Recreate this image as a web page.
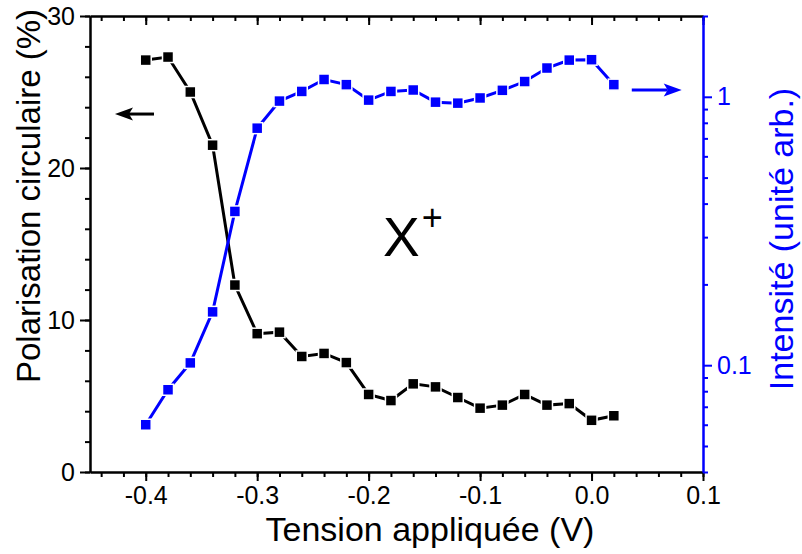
<!DOCTYPE html>
<html lang="fr">
  <head>
    <meta charset="UTF-8" />
    <script src="https://cdn.jsdelivr.net/npm/d3@7"></script>
    <style>
      * {
        margin: 0;
        padding: 0;
      }
      body {
        background: #fff;
      }
      svg {
        display: block;
        font-family: 'Liberation Sans', Arial, sans-serif;
      }
    </style>
    <title>Polarisation circulaire</title>
  </head>
  <body>
    <div id="container"></div>
  </body>
  <script>
    // tension appliquée (V)
    const tension = [
      -0.4, -0.38, -0.36, -0.34, -0.32, -0.3, -0.28, -0.26, -0.24, -0.22,
      -0.2, -0.18, -0.16, -0.14, -0.12, -0.1, -0.08, -0.06, -0.04, -0.02,
      0.0, 0.02,
    ];
    // polarisation circulaire (%)
    const polarisation = [
      27.1, 27.3, 25.0, 21.5, 12.3, 9.1, 9.2, 7.6, 7.8, 7.2, 5.1, 4.7, 5.8,
      5.6, 4.9, 4.2, 4.4, 5.1, 4.4, 4.5, 3.4, 3.7,
    ];
    // intensité (unité arb.)
    const intensite = [
      0.06, 0.081, 0.102, 0.158, 0.374, 0.764, 0.964, 1.047, 1.16, 1.11,
      0.972, 1.047, 1.06, 0.955, 0.947, 0.99, 1.057, 1.14, 1.28, 1.37, 1.375,
      1.11,
    ];

    const xTicks = [-0.4, -0.3, -0.2, -0.1, 0.0, 0.1];
    const yLeftTicks = [0, 10, 20, 30];
    const yRightTicks = [0.1, 1];
    const yRightMinor = [
      0.04, 0.05, 0.06, 0.07, 0.08, 0.09, 0.2, 0.3, 0.4, 0.5, 0.6, 0.7, 0.8,
      0.9, 2,
    ];

    const width = 802;
    const height = 554;
    const margin = { top: 16, right: 99, bottom: 82, left: 90 };
    const fontTick = 25;
    const fontTitle = 34;

    const svg = d3
      .select('#container')
      .append('svg')
      .attr('width', width)
      .attr('height', height);

    const x = d3
      .scaleLinear()
      .domain([-0.45, 0.1])
      .range([margin.left, width - margin.right]);
    const yL = d3
      .scaleLinear()
      .domain([0, 30])
      .range([height - margin.bottom, margin.top]);
    const yR = d3
      .scaleLog()
      .domain([0.04, 2])
      .range([height - margin.bottom, margin.top]);

    const styleAxis = (g, color) => {
      g.selectAll('path').attr('stroke', color).attr('stroke-width', 2);
      g.selectAll('line').attr('stroke', color).attr('stroke-width', 2);
      g.selectAll('text')
        .attr('fill', color)
        .attr('font-size', fontTick)
        .attr('font-family', 'Liberation Sans, Arial, sans-serif');
    };

    //bottom axis (minor then major)
    const bottom = height - margin.bottom;
    svg
      .append('g')
      .attr('transform', `translate(0,${bottom})`)
      .call(
        d3
          .axisBottom(x)
          .tickValues(d3.range(-0.44, 0.101, 0.02))
          .tickSize(5)
          .tickSizeOuter(0)
          .tickFormat('')
      )
      .call((g) => styleAxis(g, '#000'));
    svg
      .append('g')
      .attr('transform', `translate(0,${bottom})`)
      .call(
        d3
          .axisBottom(x)
          .tickValues(xTicks)
          .tickSize(9)
          .tickSizeOuter(0)
          .tickPadding(5)
          .tickFormat((d) => d.toFixed(1))
      )
      .call((g) => styleAxis(g, '#000'));

    //top axis, ticks inside
    svg
      .append('g')
      .attr('transform', `translate(0,${margin.top})`)
      .call(
        d3
          .axisBottom(x)
          .tickValues(d3.range(-0.44, 0.101, 0.02))
          .tickSize(5)
          .tickSizeOuter(0)
          .tickFormat('')
      )
      .call((g) => styleAxis(g, '#000'));
    svg
      .append('g')
      .attr('transform', `translate(0,${margin.top})`)
      .call(
        d3
          .axisBottom(x)
          .tickValues(xTicks)
          .tickSize(9)
          .tickSizeOuter(0)
          .tickFormat('')
      )
      .call((g) => styleAxis(g, '#000'));

    //left axis
    svg
      .append('g')
      .attr('transform', `translate(${margin.left},0)`)
      .call(
        d3
          .axisLeft(yL)
          .tickValues(d3.range(0, 31, 2))
          .tickSize(5)
          .tickSizeOuter(0)
          .tickFormat('')
      )
      .call((g) => styleAxis(g, '#000'));
    svg
      .append('g')
      .attr('transform', `translate(${margin.left},0)`)
      .call(
        d3
          .axisLeft(yL)
          .tickValues(yLeftTicks)
          .tickSize(10)
          .tickSizeOuter(0)
          .tickPadding(5)
      )
      .call((g) => styleAxis(g, '#000'));

    //right axis (log)
    const right = width - margin.right;
    svg
      .append('g')
      .attr('transform', `translate(${right},0)`)
      .call(
        d3
          .axisRight(yR)
          .tickValues(yRightMinor)
          .tickSize(5)
          .tickSizeOuter(0)
          .tickFormat('')
      )
      .call((g) => styleAxis(g, '#0000ff'));
    svg
      .append('g')
      .attr('transform', `translate(${right},0)`)
      .call(
        d3
          .axisRight(yR)
          .tickValues(yRightTicks)
          .tickSize(9)
          .tickSizeOuter(0)
          .tickPadding(5)
          .tickFormat((d) => String(d))
      )
      .call((g) => styleAxis(g, '#0000ff'));

    //axis titles
    svg
      .append('text')
      .text('Tension appliquée (V)')
      .attr('x', 430)
      .attr('y', 541)
      .attr('text-anchor', 'middle')
      .attr('font-size', fontTitle)
      .attr('fill', '#000');
    svg
      .append('text')
      .text('Polarisation circulaire (%)')
      .attr('transform', `translate(40,196) rotate(-90)`)
      .attr('text-anchor', 'middle')
      .attr('font-size', fontTitle - 1)
      .attr('fill', '#000');
    svg
      .append('text')
      .text('Intensité (unité arb.)')
      .attr('transform', `translate(793,239) rotate(-90)`)
      .attr('text-anchor', 'middle')
      .attr('font-size', fontTitle)
      .attr('fill', '#0000ff');

    //series
    const series = [
      { values: polarisation, y: yL, color: '#000' },
      { values: intensite, y: yR, color: '#0000ff' },
    ];
    const markSize = 11;
    series.forEach((s) => {
      const pts = tension.map((t, i) => [t, s.values[i]]);
      svg
        .append('path')
        .datum(pts)
        .attr('fill', 'none')
        .attr('stroke', s.color)
        .attr('stroke-width', 3)
        .attr(
          'd',
          d3
            .line()
            .x((d) => x(d[0]))
            .y((d) => s.y(d[1]))
        );
      svg
        .append('g')
        .selectAll('rect')
        .data(pts)
        .join('rect')
        .attr('x', (d) => x(d[0]) - markSize / 2)
        .attr('y', (d) => s.y(d[1]) - markSize / 2)
        .attr('width', markSize)
        .attr('height', markSize)
        .attr('fill', s.color)
        .attr('stroke', '#fff')
        .attr('stroke-width', 1.5);
    });

    //arrows pointing to the axes
    const arrows = [
      { from: [-0.3926, 23.55], to: [-0.4276, 23.55], y: yL, color: '#000' },
      { from: [0.0361, 1.06], to: [0.0809, 1.06], y: yR, color: '#0000ff' },
    ];
    arrows.forEach((a) => {
      const x0 = x(a.from[0]);
      const x1 = x(a.to[0]);
      const yy = a.y(a.from[1]);
      const dir = Math.sign(x1 - x0);
      const head = 18;
      svg
        .append('line')
        .attr('x1', x0)
        .attr('x2', x1 - dir * head + dir * 4)
        .attr('y1', yy)
        .attr('y2', yy)
        .attr('stroke', a.color)
        .attr('stroke-width', 3);
      svg
        .append('path')
        .attr(
          'd',
          `M${x1},${yy} L${x1 - dir * head},${yy - 6.5} L${x1 - dir * head + dir * 4},${yy} L${x1 - dir * head},${yy + 6.5} Z`
        )
        .attr('fill', a.color);
    });

    //X+ label
    const label = svg
      .append('text')
      .attr('x', x(-0.1871))
      .attr('y', yL(14.2))
      .attr('font-size', 55)
      .attr('fill', '#000');
    label.append('tspan').text('X');
    label
      .append('tspan')
      .text('+')
      .attr('font-size', 36)
      .attr('dy', -26)
      .attr('dx', 2);
  </script>
</html>
